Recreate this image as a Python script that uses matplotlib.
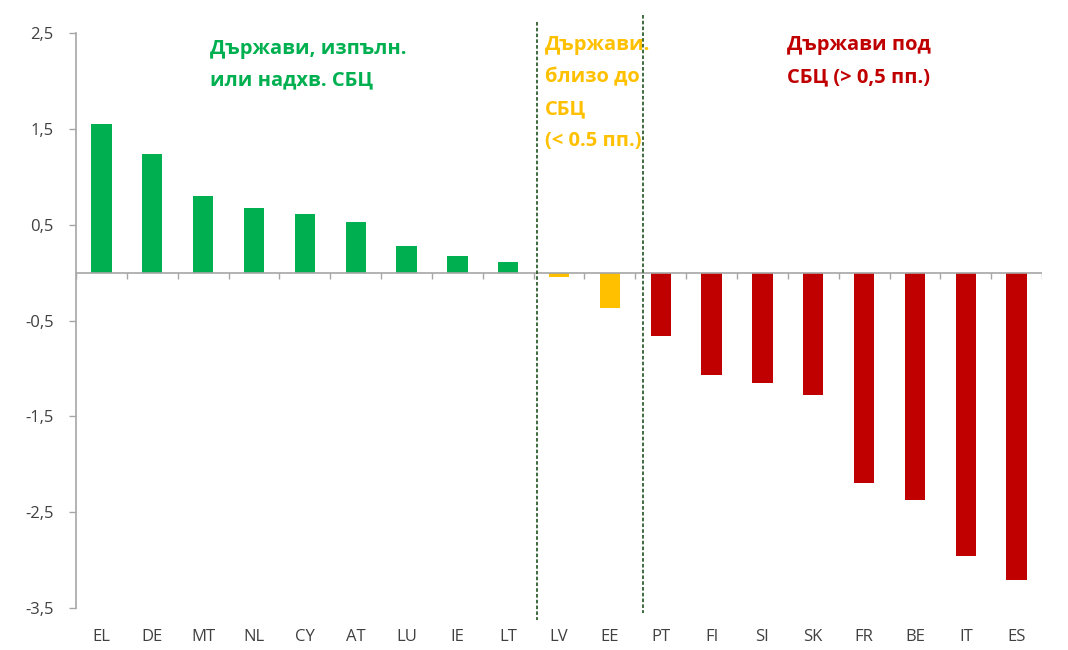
import numpy as np
import matplotlib
matplotlib.use("Agg")
from matplotlib import pyplot as plt

countries = ['EL', 'DE', 'MT', 'NL', 'CY', 'AT', 'LU', 'IE', 'LT',
             'LV', 'EE',
             'PT', 'FI', 'SI', 'SK', 'FR', 'BE', 'IT', 'ES']
values = [1.55, 1.24, 0.80, 0.67, 0.61, 0.53, 0.28, 0.17, 0.11,
          -0.05, -0.37,
          -0.66, -1.07, -1.15, -1.28, -2.20, -2.37, -2.96, -3.21]
groups = ['g'] * 9 + ['y'] * 2 + ['r'] * 8
yticks = [2.5, 1.5, 0.5, -0.5, -1.5, -2.5, -3.5]

green, yellow, red = '#00b050', '#ffc000', '#c00000'
col = {'g': green, 'y': yellow, 'r': red}
axis_grey = '#a6a6a6'
label_grey = '#404040'

plt.rcParams['font.family'] = ['Open Sans', 'DejaVu Sans']

fig = plt.figure(figsize=(10.68, 6.5), dpi=100)
ax = fig.add_axes([0.0712, 0.0646, 0.9045, 0.8846])

x = np.arange(len(countries))
ax.bar(x, values, width=0.4, color=[col[g] for g in groups], zorder=2)

ax.set_xlim(-0.5, len(countries) - 0.5)
ax.set_ylim(-3.5, 2.5)

# y axis
ax.set_yticks(yticks)
ax.set_yticklabels([f'{t:g}'.replace('.', ',') for t in yticks])
ax.tick_params(axis='y', length=5, width=1, color=axis_grey,
               labelsize=12, labelcolor=label_grey, pad=11)
for s in ['top', 'right', 'bottom']:
    ax.spines[s].set_visible(False)
ax.spines['left'].set_color(axis_grey)
ax.spines['left'].set_linewidth(1.2)

# category axis at zero, labels at the bottom
ax.axhline(0, color=axis_grey, lw=1.2, zorder=3)
ax.vlines(np.arange(len(countries) + 1) - 0.5, -0.07, 0, color=axis_grey,
          lw=1, zorder=3)
ax.set_xticks(x)
ax.set_xticklabels(countries)
ax.tick_params(axis='x', length=0, labelsize=12, labelcolor=label_grey, pad=15)

# group separators
ax.plot([8.57, 8.57], [2.61, -3.625], color='#2f5f2f', lw=1.3,
        ls=(0, (2, 1.2)), clip_on=False, zorder=4)
ax.plot([10.65, 10.65], [2.69, -3.55], color='#2f5f2f', lw=1.3,
        ls=(0, (2, 1.2)), clip_on=False, zorder=4)

# group titles
ax.text(2.13, 2.44, 'Държави, изпълн.\nили надхв. СБЦ', color=green,
        fontsize=14.5, fontweight='bold', va='top', ha='left', linespacing=1.8)
ax.text(8.73, 2.48, 'Държави.\nблизо до\nСБЦ\n(< 0.5 пп.)', color=yellow,
        fontsize=14.5, fontweight='bold', va='top', ha='left', linespacing=1.8)
ax.text(13.48, 2.48, 'Държави под\nСБЦ (> 0,5 пп.)', color=red,
        fontsize=14.5, fontweight='bold', va='top', ha='left', linespacing=1.8)

fig.savefig('out.png', dpi=100)
